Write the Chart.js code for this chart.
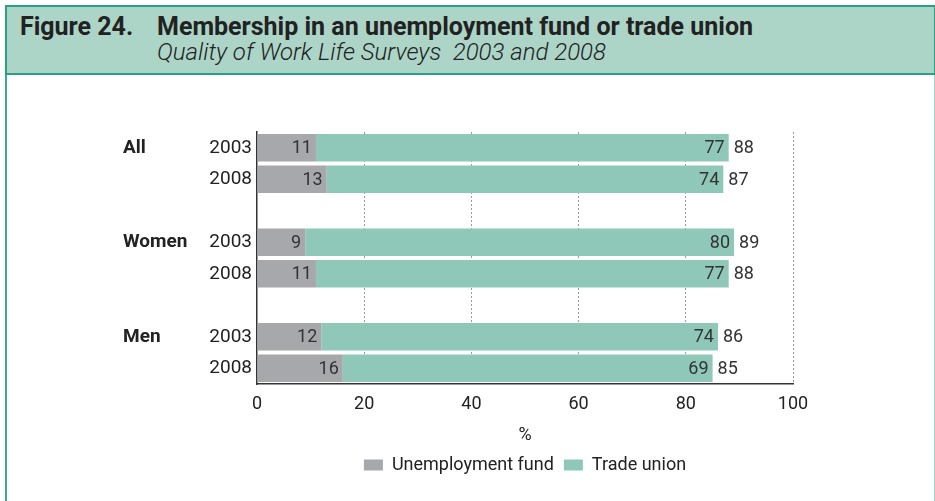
<!DOCTYPE html>
<html>
<head>
<meta charset="utf-8">
<title>Membership in an unemployment fund or trade union</title>
<script src="https://cdn.jsdelivr.net/npm/chart.js@4.4.1/dist/chart.umd.min.js"></script>
<style>
  html, body { margin: 0; padding: 0; background: #fff; }
  body { width: 935px; height: 501px; position: relative; overflow: hidden; font-family: Roboto, "Open Sans", sans-serif; color: #222; }
  #frame { position: absolute; left: 5px; top: 5px; width: 927px; height: 510px; border-left: 2px solid #3aa98c; border-right: 1px solid #9fd5c4; }
  #head { position: absolute; left: 5px; top: 5px; width: 927px; height: 66px; background: #acd5c8; border: 2px solid #2ba183; z-index: 2; }
  #head div { position: absolute; white-space: pre; line-height: 1; }
  .fig { left: 13px; top: 7px; font-size: 25px; font-weight: bold; }
  .ttl { left: 150px; top: 7px; font-size: 25px; font-weight: bold; }
  .sub { left: 150px; top: 33px; font-size: 24px; font-style: italic; font-weight: 300; }
  #chart { position: absolute; left: 0; top: 0; z-index: 1; }
</style>
</head>
<body>
<div id="frame"></div>
<div id="head">
  <div class="fig">Figure 24.</div>
  <div class="ttl">Membership in an unemployment fund or trade union</div>
  <div class="sub">Quality of Work Life Surveys  2003 and 2008</div>
</div>
<canvas id="chart" width="935" height="501"></canvas>
<script>
const groups = ["All", "Women", "Men"];
const years = ["2003", "2008"];
const fundValues = [11, 13, 9, 11, 12, 16];
const unionValues = [77, 74, 80, 77, 74, 69];
const xTicks = [0, 20, 40, 60, 80, 100];

const greyBar = "#a7a8ac";
const greenBar = "#8fc8b8";
const textColor = "#222";
const font = "Roboto, 'Open Sans', sans-serif";

// two rows per group with an empty row between groups
const rowLabels = [];
const fundRows = [];
const unionRows = [];
groups.forEach((g, gi) => {
  if (gi > 0) {
    rowLabels.push("");
    fundRows.push(null);
    unionRows.push(null);
  }
  years.forEach((y, yi) => {
    rowLabels.push(y);
    fundRows.push(fundValues[gi * years.length + yi]);
    unionRows.push(unionValues[gi * years.length + yi]);
  });
});

const groupLabelPlugin = {
  id: "groupLabels",
  afterDraw(chart) {
    const ctx = chart.ctx;
    const yScale = chart.scales.y;
    ctx.save();
    ctx.font = "bold 19px " + font;
    ctx.fillStyle = textColor;
    ctx.textAlign = "left";
    ctx.textBaseline = "middle";
    groups.forEach((g, gi) => {
      ctx.fillText(g, 123, yScale.getPixelForValue(gi * (years.length + 1)));
    });
    ctx.restore();
  }
};

const valueLabelPlugin = {
  id: "valueLabels",
  afterDatasetsDraw(chart) {
    const ctx = chart.ctx;
    ctx.save();
    ctx.font = "18px " + font;
    ctx.fillStyle = "#333";
    ctx.textBaseline = "middle";
    chart.data.datasets.forEach((ds, di) => {
      const meta = chart.getDatasetMeta(di);
      meta.data.forEach((bar, i) => {
        const v = ds.data[i];
        if (v == null) return;
        ctx.textAlign = "right";
        ctx.fillText(String(v), bar.x - 4, bar.y + 1);
        if (di === 1) {
          // total of both series just past the end of the stack
          ctx.textAlign = "left";
          ctx.fillText(String(fundRows[i] + unionRows[i]), bar.x + 5, bar.y + 1);
        }
      });
    });
    ctx.restore();
  }
};

new Chart(document.getElementById("chart"), {
  type: "bar",
  data: {
    labels: rowLabels,
    datasets: [
      { label: "Unemployment fund", data: fundRows, backgroundColor: greyBar },
      { label: "Trade union", data: unionRows, backgroundColor: greenBar }
    ]
  },
  options: {
    indexAxis: "y",
    responsive: false,
    animation: false,
    layout: { padding: { top: 132, right: 142, left: 0, bottom: 17 } },
    datasets: { bar: { categoryPercentage: 1, barPercentage: 0.87 } },
    scales: {
      x: {
        stacked: true,
        min: 0,
        max: 100,
        afterBuildTicks(scale) {
          scale.ticks = xTicks.map(v => ({ value: v }));
        },
        afterFit(scale) { scale.height = 62; },
        grid: {
          drawTicks: false,
          color: c => (c.tick && c.tick.value === 0 ? "rgba(0,0,0,0)" : "#9a9a9a"),
          lineWidth: 1
        },
        border: { display: true, color: "#333", width: 1.5, dash: [2, 2] },
        ticks: { padding: 10, color: textColor, font: { family: font, size: 18 } },
        title: { display: true, text: "%", color: textColor, padding: { top: 0, bottom: 0 }, font: { family: font, size: 18 } }
      },
      y: {
        stacked: true,
        afterFit(scale) { scale.width = 257; },
        grid: { display: false, drawTicks: false },
        border: { display: true, color: "#333", width: 1.5 },
        ticks: { padding: 5, color: textColor, font: { family: font, size: 19 } }
      }
    },
    plugins: {
      legend: {
        position: "bottom",
        fullSize: false,
        labels: { boxWidth: 19, boxHeight: 11, padding: 10, color: textColor, font: { family: font, size: 18 } }
      },
      tooltip: { enabled: false }
    }
  },
  plugins: [groupLabelPlugin, valueLabelPlugin]
});
</script>
</body>
</html>
